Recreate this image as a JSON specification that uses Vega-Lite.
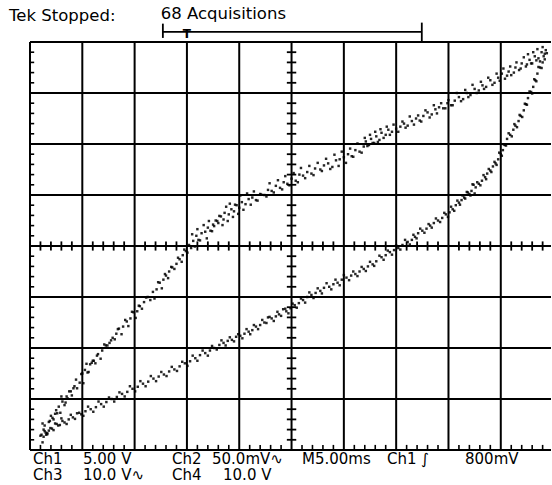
{
  "$schema": "https://vega.github.io/schema/vega-lite/v6.json",
  "width": 521,
  "height": 408,
  "autosize": {"type": "none"},
  "padding": {"left": 30, "top": 42, "right": 1, "bottom": 35},
  "background": "white",
  "config": {"view": {"stroke": null}, "axis": {"disable": true}},
  "datasets": {
    "vgrid": [{"x": 0}, {"x": 1}, {"x": 2}, {"x": 3}, {"x": 4}, {"x": 5}, {"x": 6}, {"x": 7}, {"x": 8}, {"x": 9}],
    "hgrid": [{"y": -4}, {"y": -3}, {"y": -2}, {"y": -1}, {"y": 0}, {"y": 1}, {"y": 2}, {"y": 3}, {"y": 4}],
    "xticks": [
      {"x": 0.2}, {"x": 0.4}, {"x": 0.6}, {"x": 0.8}, {"x": 1.2}, {"x": 1.4}, {"x": 1.6}, {"x": 1.8},
      {"x": 2.2}, {"x": 2.4}, {"x": 2.6}, {"x": 2.8}, {"x": 3.2}, {"x": 3.4}, {"x": 3.6}, {"x": 3.8},
      {"x": 4.2}, {"x": 4.4}, {"x": 4.6}, {"x": 4.8}, {"x": 5.2}, {"x": 5.4}, {"x": 5.6}, {"x": 5.8},
      {"x": 6.2}, {"x": 6.4}, {"x": 6.6}, {"x": 6.8}, {"x": 7.2}, {"x": 7.4}, {"x": 7.6}, {"x": 7.8},
      {"x": 8.2}, {"x": 8.4}, {"x": 8.6}, {"x": 8.8}, {"x": 9.2}, {"x": 9.4}, {"x": 9.6}, {"x": 9.8}
    ],
    "yticks": [
      {"y": -3.8}, {"y": -3.6}, {"y": -3.4}, {"y": -3.2}, {"y": -2.8}, {"y": -2.6}, {"y": -2.4}, {"y": -2.2},
      {"y": -1.8}, {"y": -1.6}, {"y": -1.4}, {"y": -1.2}, {"y": -0.8}, {"y": -0.6}, {"y": -0.4}, {"y": -0.2},
      {"y": 0.2}, {"y": 0.4}, {"y": 0.6}, {"y": 0.8}, {"y": 1.2}, {"y": 1.4}, {"y": 1.6}, {"y": 1.8},
      {"y": 2.2}, {"y": 2.4}, {"y": 2.6}, {"y": 2.8}, {"y": 3.2}, {"y": 3.4}, {"y": 3.6}, {"y": 3.8}
    ],
    "trace": [
      {"x": 0.20, "y": -3.72}, {"x": 0.26, "y": -3.60}, {"x": 0.31, "y": -3.70}, {"x": 0.28, "y": -3.52}, {"x": 0.36, "y": -3.45},
      {"x": 0.40, "y": -3.33}, {"x": 0.45, "y": -3.40}, {"x": 0.50, "y": -3.22}, {"x": 0.55, "y": -3.15}, {"x": 0.52, "y": -3.28},
      {"x": 0.62, "y": -3.05}, {"x": 0.66, "y": -3.12}, {"x": 0.70, "y": -2.95}, {"x": 0.75, "y": -2.85}, {"x": 0.80, "y": -2.93},
      {"x": 0.85, "y": -2.75}, {"x": 0.88, "y": -2.62}, {"x": 0.95, "y": -2.68}, {"x": 1.00, "y": -2.50}, {"x": 1.05, "y": -2.43},
      {"x": 1.10, "y": -2.48}, {"x": 1.15, "y": -2.32}, {"x": 1.20, "y": -2.25}, {"x": 1.25, "y": -2.30}, {"x": 1.30, "y": -2.12},
      {"x": 1.38, "y": -2.05}, {"x": 1.45, "y": -1.95}, {"x": 1.52, "y": -1.90}, {"x": 1.58, "y": -1.80}, {"x": 1.65, "y": -1.72},
      {"x": 1.70, "y": -1.62}, {"x": 1.78, "y": -1.58}, {"x": 1.85, "y": -1.48}, {"x": 1.92, "y": -1.42}, {"x": 1.98, "y": -1.30},
      {"x": 2.05, "y": -1.28}, {"x": 2.10, "y": -1.18}, {"x": 2.18, "y": -1.10}, {"x": 2.25, "y": -1.00}, {"x": 2.30, "y": -1.06},
      {"x": 2.35, "y": -0.90}, {"x": 2.42, "y": -0.85}, {"x": 2.48, "y": -0.72}, {"x": 2.55, "y": -0.66}, {"x": 2.60, "y": -0.58},
      {"x": 2.66, "y": -0.50}, {"x": 2.72, "y": -0.42}, {"x": 2.80, "y": -0.35}, {"x": 2.86, "y": -0.26}, {"x": 2.92, "y": -0.18},
      {"x": 2.98, "y": -0.10}, {"x": 3.04, "y": 0.02}, {"x": 3.08, "y": -0.04},
      {"x": 3.12, "y": 0.10}, {"x": 3.18, "y": 0.20}, {"x": 3.22, "y": 0.12}, {"x": 3.28, "y": 0.25}, {"x": 3.35, "y": 0.28},
      {"x": 3.40, "y": 0.36}, {"x": 3.45, "y": 0.30}, {"x": 3.50, "y": 0.42}, {"x": 3.55, "y": 0.50}, {"x": 3.60, "y": 0.45},
      {"x": 3.65, "y": 0.58}, {"x": 3.70, "y": 0.52}, {"x": 3.72, "y": 0.65}, {"x": 3.80, "y": 0.62}, {"x": 3.85, "y": 0.72},
      {"x": 3.90, "y": 0.68}, {"x": 3.95, "y": 0.80}, {"x": 4.00, "y": 0.75}, {"x": 4.05, "y": 0.86}, {"x": 4.12, "y": 0.82},
      {"x": 4.18, "y": 0.92},
      {"x": 4.25, "y": 0.95}, {"x": 4.32, "y": 0.90}, {"x": 4.40, "y": 1.02}, {"x": 4.48, "y": 1.00}, {"x": 4.55, "y": 1.10},
      {"x": 4.62, "y": 1.08}, {"x": 4.70, "y": 1.18}, {"x": 4.78, "y": 1.14}, {"x": 4.85, "y": 1.25}, {"x": 4.92, "y": 1.22},
      {"x": 5.00, "y": 1.32}, {"x": 5.08, "y": 1.28}, {"x": 5.15, "y": 1.40},
      {"x": 5.22, "y": 1.38}, {"x": 5.30, "y": 1.45}, {"x": 5.38, "y": 1.42}, {"x": 5.45, "y": 1.52}, {"x": 5.55, "y": 1.50},
      {"x": 5.62, "y": 1.58}, {"x": 5.70, "y": 1.62}, {"x": 5.78, "y": 1.55}, {"x": 5.85, "y": 1.68}, {"x": 5.92, "y": 1.70},
      {"x": 6.00, "y": 1.74}, {"x": 6.08, "y": 1.80}, {"x": 6.15, "y": 1.76}, {"x": 6.22, "y": 1.88}, {"x": 6.30, "y": 1.85},
      {"x": 6.38, "y": 1.95},
      {"x": 6.42, "y": 2.05}, {"x": 6.48, "y": 1.98}, {"x": 6.52, "y": 2.10}, {"x": 6.58, "y": 2.02}, {"x": 6.62, "y": 2.15},
      {"x": 6.68, "y": 2.08}, {"x": 6.72, "y": 2.22}, {"x": 6.80, "y": 2.18}, {"x": 6.85, "y": 2.28}, {"x": 6.92, "y": 2.24},
      {"x": 7.00, "y": 2.30}, {"x": 7.08, "y": 2.34}, {"x": 7.15, "y": 2.40}, {"x": 7.22, "y": 2.36}, {"x": 7.30, "y": 2.45},
      {"x": 7.38, "y": 2.50}, {"x": 7.45, "y": 2.46}, {"x": 7.52, "y": 2.55}, {"x": 7.60, "y": 2.62}, {"x": 7.68, "y": 2.58},
      {"x": 7.75, "y": 2.68}, {"x": 7.82, "y": 2.72}, {"x": 7.90, "y": 2.70}, {"x": 7.98, "y": 2.80}, {"x": 8.05, "y": 2.76},
      {"x": 8.12, "y": 2.85}, {"x": 8.20, "y": 2.92}, {"x": 8.28, "y": 2.88}, {"x": 8.35, "y": 3.00}, {"x": 8.42, "y": 2.96},
      {"x": 8.50, "y": 3.08}, {"x": 8.58, "y": 3.05}, {"x": 8.65, "y": 3.15}, {"x": 8.72, "y": 3.12}, {"x": 8.80, "y": 3.25},
      {"x": 8.88, "y": 3.20}, {"x": 8.95, "y": 3.30}, {"x": 9.02, "y": 3.38}, {"x": 9.08, "y": 3.28}, {"x": 9.15, "y": 3.42},
      {"x": 9.20, "y": 3.35}, {"x": 9.28, "y": 3.50}, {"x": 9.35, "y": 3.45}, {"x": 9.40, "y": 3.58}, {"x": 9.48, "y": 3.52},
      {"x": 9.55, "y": 3.65}, {"x": 9.60, "y": 3.58}, {"x": 9.65, "y": 3.72}, {"x": 9.72, "y": 3.68}, {"x": 9.78, "y": 3.80},
      {"x": 9.82, "y": 3.72}, {"x": 9.86, "y": 3.84},
      {"x": 0.24, "y": -3.48}, {"x": 0.33, "y": -3.69}, {"x": 0.38, "y": -3.43}, {"x": 0.43, "y": -3.37}, {"x": 0.48, "y": -3.29},
      {"x": 0.58, "y": -3.27}, {"x": 0.60, "y": -2.95}, {"x": 0.68, "y": -3.07}, {"x": 0.72, "y": -2.99}, {"x": 0.78, "y": -2.85},
      {"x": 0.83, "y": -2.79}, {"x": 0.90, "y": -2.79}, {"x": 0.98, "y": -2.51}, {"x": 1.02, "y": -2.69}, {"x": 1.08, "y": -2.31},
      {"x": 1.12, "y": -2.47}, {"x": 1.18, "y": -2.29}, {"x": 1.22, "y": -2.25}, {"x": 1.28, "y": -2.15},
      {"x": 1.35, "y": -2.21}, {"x": 1.42, "y": -1.93}, {"x": 1.48, "y": -1.95}, {"x": 1.55, "y": -1.85}, {"x": 1.62, "y": -1.83},
      {"x": 1.68, "y": -1.63}, {"x": 1.75, "y": -1.73}, {"x": 1.82, "y": -1.45}, {"x": 1.88, "y": -1.57}, {"x": 1.95, "y": -1.29},
      {"x": 2.02, "y": -1.41}, {"x": 2.08, "y": -1.17}, {"x": 2.14, "y": -1.23}, {"x": 2.22, "y": -1.01},
      {"x": 2.38, "y": -1.03}, {"x": 2.45, "y": -0.71}, {"x": 2.52, "y": -0.83}, {"x": 2.58, "y": -0.55}, {"x": 2.64, "y": -0.63},
      {"x": 2.70, "y": -0.41}, {"x": 2.76, "y": -0.45}, {"x": 2.83, "y": -0.23}, {"x": 2.90, "y": -0.31}, {"x": 2.95, "y": -0.07},
      {"x": 3.01, "y": -0.13},
      {"x": 3.10, "y": 0.23}, {"x": 3.15, "y": -0.01}, {"x": 3.20, "y": 0.33}, {"x": 3.25, "y": 0.11}, {"x": 3.32, "y": 0.41},
      {"x": 3.38, "y": 0.15}, {"x": 3.42, "y": 0.49}, {"x": 3.48, "y": 0.29}, {"x": 3.52, "y": 0.39}, {"x": 3.58, "y": 0.49},
      {"x": 3.62, "y": 0.59}, {"x": 3.68, "y": 0.41}, {"x": 3.75, "y": 0.77}, {"x": 3.78, "y": 0.49}, {"x": 3.82, "y": 0.83},
      {"x": 3.88, "y": 0.57}, {"x": 3.92, "y": 0.81}, {"x": 3.98, "y": 0.63}, {"x": 4.02, "y": 0.99}, {"x": 4.08, "y": 0.71},
      {"x": 4.15, "y": 1.03},
      {"x": 4.22, "y": 0.81}, {"x": 4.28, "y": 1.07}, {"x": 4.35, "y": 0.89}, {"x": 4.42, "y": 1.01}, {"x": 4.52, "y": 0.97},
      {"x": 4.58, "y": 1.23}, {"x": 4.66, "y": 1.05}, {"x": 4.74, "y": 1.29}, {"x": 4.82, "y": 1.11}, {"x": 4.88, "y": 1.37},
      {"x": 4.96, "y": 1.19}, {"x": 5.04, "y": 1.43}, {"x": 5.12, "y": 1.25},
      {"x": 5.18, "y": 1.53}, {"x": 5.26, "y": 1.33}, {"x": 5.34, "y": 1.57}, {"x": 5.42, "y": 1.39}, {"x": 5.50, "y": 1.63},
      {"x": 5.58, "y": 1.47}, {"x": 5.66, "y": 1.71}, {"x": 5.74, "y": 1.51}, {"x": 5.82, "y": 1.79}, {"x": 5.90, "y": 1.57},
      {"x": 5.96, "y": 1.85}, {"x": 6.04, "y": 1.63}, {"x": 6.12, "y": 1.91}, {"x": 6.18, "y": 1.75}, {"x": 6.26, "y": 2.01},
      {"x": 6.34, "y": 1.83},
      {"x": 6.40, "y": 2.12}, {"x": 6.45, "y": 1.96}, {"x": 6.50, "y": 2.18}, {"x": 6.55, "y": 2.02}, {"x": 6.60, "y": 2.24},
      {"x": 6.65, "y": 2.04}, {"x": 6.70, "y": 2.29}, {"x": 6.76, "y": 2.12}, {"x": 6.82, "y": 2.34}, {"x": 6.88, "y": 2.18},
      {"x": 6.95, "y": 2.38},
      {"x": 7.04, "y": 2.24}, {"x": 7.12, "y": 2.44}, {"x": 7.18, "y": 2.32}, {"x": 7.26, "y": 2.54}, {"x": 7.34, "y": 2.38},
      {"x": 7.42, "y": 2.56}, {"x": 7.48, "y": 2.44}, {"x": 7.56, "y": 2.66}, {"x": 7.64, "y": 2.52}, {"x": 7.72, "y": 2.76},
      {"x": 7.78, "y": 2.60}, {"x": 7.86, "y": 2.80}, {"x": 7.94, "y": 2.70}, {"x": 8.00, "y": 2.86},
      {"x": 8.08, "y": 2.76}, {"x": 8.16, "y": 3.00}, {"x": 8.24, "y": 2.84}, {"x": 8.32, "y": 3.06}, {"x": 8.38, "y": 2.92},
      {"x": 8.46, "y": 3.16}, {"x": 8.54, "y": 3.00}, {"x": 8.62, "y": 3.22}, {"x": 8.68, "y": 3.08}, {"x": 8.76, "y": 3.30},
      {"x": 8.84, "y": 3.16}, {"x": 8.92, "y": 3.38}, {"x": 8.98, "y": 3.24}, {"x": 9.05, "y": 3.48}, {"x": 9.12, "y": 3.34},
      {"x": 9.18, "y": 3.52}, {"x": 9.25, "y": 3.40}, {"x": 9.30, "y": 3.60}, {"x": 9.38, "y": 3.48}, {"x": 9.44, "y": 3.70},
      {"x": 9.50, "y": 3.56}, {"x": 9.52, "y": 3.76}, {"x": 9.58, "y": 3.58}, {"x": 9.62, "y": 3.80}, {"x": 9.68, "y": 3.64},
      {"x": 9.70, "y": 3.86}, {"x": 9.75, "y": 3.62}, {"x": 9.80, "y": 3.90}, {"x": 9.84, "y": 3.66}, {"x": 9.88, "y": 3.78},
      {"x": 9.80, "y": 3.60}, {"x": 9.75, "y": 3.50}, {"x": 9.70, "y": 3.38}, {"x": 9.66, "y": 3.25}, {"x": 9.62, "y": 3.12},
      {"x": 9.58, "y": 3.02}, {"x": 9.52, "y": 2.90}, {"x": 9.48, "y": 2.78}, {"x": 9.44, "y": 2.66}, {"x": 9.38, "y": 2.55},
      {"x": 9.34, "y": 2.45}, {"x": 9.28, "y": 2.36}, {"x": 9.24, "y": 2.28}, {"x": 9.18, "y": 2.18}, {"x": 9.12, "y": 2.10},
      {"x": 9.08, "y": 1.98}, {"x": 9.04, "y": 1.88}, {"x": 9.00, "y": 1.80}, {"x": 8.95, "y": 1.70}, {"x": 8.90, "y": 1.62},
      {"x": 8.85, "y": 1.56}, {"x": 8.80, "y": 1.48}, {"x": 8.74, "y": 1.42}, {"x": 8.70, "y": 1.35}, {"x": 8.64, "y": 1.28},
      {"x": 8.58, "y": 1.22}, {"x": 8.52, "y": 1.15}, {"x": 8.48, "y": 1.20}, {"x": 8.44, "y": 1.08}, {"x": 8.40, "y": 1.02},
      {"x": 8.35, "y": 1.06}, {"x": 8.30, "y": 0.95}, {"x": 8.25, "y": 0.90}, {"x": 8.20, "y": 0.85}, {"x": 8.14, "y": 0.80},
      {"x": 8.08, "y": 0.72}, {"x": 8.02, "y": 0.66}, {"x": 7.95, "y": 0.62},
      {"x": 7.88, "y": 0.55}, {"x": 7.80, "y": 0.50}, {"x": 7.72, "y": 0.45}, {"x": 7.65, "y": 0.40}, {"x": 7.58, "y": 0.34},
      {"x": 7.50, "y": 0.30}, {"x": 7.42, "y": 0.25}, {"x": 7.36, "y": 0.18}, {"x": 7.30, "y": 0.12}, {"x": 7.22, "y": 0.08},
      {"x": 7.12, "y": 0.02}, {"x": 7.04, "y": -0.04}, {"x": 6.96, "y": -0.08}, {"x": 6.88, "y": -0.12}, {"x": 6.80, "y": -0.18},
      {"x": 6.72, "y": -0.22}, {"x": 6.62, "y": -0.30}, {"x": 6.55, "y": -0.36}, {"x": 6.46, "y": -0.40}, {"x": 6.38, "y": -0.45},
      {"x": 6.30, "y": -0.50}, {"x": 6.22, "y": -0.55}, {"x": 6.14, "y": -0.58}, {"x": 6.05, "y": -0.62}, {"x": 5.96, "y": -0.66},
      {"x": 5.88, "y": -0.72}, {"x": 5.80, "y": -0.75}, {"x": 5.72, "y": -0.80}, {"x": 5.62, "y": -0.82}, {"x": 5.55, "y": -0.88},
      {"x": 5.46, "y": -0.92}, {"x": 5.38, "y": -0.96},
      {"x": 5.30, "y": -1.00}, {"x": 5.22, "y": -1.06}, {"x": 5.14, "y": -1.12}, {"x": 5.06, "y": -1.16}, {"x": 4.98, "y": -1.22},
      {"x": 4.90, "y": -1.28}, {"x": 4.84, "y": -1.24}, {"x": 4.76, "y": -1.34}, {"x": 4.70, "y": -1.38}, {"x": 4.62, "y": -1.42},
      {"x": 4.55, "y": -1.40}, {"x": 4.48, "y": -1.50}, {"x": 4.40, "y": -1.55}, {"x": 4.32, "y": -1.58}, {"x": 4.25, "y": -1.65},
      {"x": 4.18, "y": -1.68}, {"x": 4.10, "y": -1.72}, {"x": 4.02, "y": -1.76}, {"x": 3.94, "y": -1.78}, {"x": 3.86, "y": -1.84},
      {"x": 3.78, "y": -1.86}, {"x": 3.70, "y": -1.90}, {"x": 3.62, "y": -1.94},
      {"x": 3.52, "y": -2.00}, {"x": 3.44, "y": -2.05}, {"x": 3.35, "y": -2.10}, {"x": 3.25, "y": -2.14}, {"x": 3.16, "y": -2.20},
      {"x": 3.06, "y": -2.26}, {"x": 2.96, "y": -2.30}, {"x": 2.86, "y": -2.36}, {"x": 2.76, "y": -2.42}, {"x": 2.66, "y": -2.46},
      {"x": 2.56, "y": -2.52}, {"x": 2.46, "y": -2.56}, {"x": 2.36, "y": -2.60}, {"x": 2.26, "y": -2.66}, {"x": 2.16, "y": -2.70},
      {"x": 2.06, "y": -2.76}, {"x": 1.96, "y": -2.80}, {"x": 1.86, "y": -2.86}, {"x": 1.76, "y": -2.90},
      {"x": 1.66, "y": -2.96}, {"x": 1.56, "y": -3.00}, {"x": 1.46, "y": -3.06}, {"x": 1.36, "y": -3.10}, {"x": 1.26, "y": -3.16},
      {"x": 1.16, "y": -3.20}, {"x": 1.06, "y": -3.24}, {"x": 0.98, "y": -3.30}, {"x": 0.90, "y": -3.28}, {"x": 0.82, "y": -3.36},
      {"x": 0.74, "y": -3.40}, {"x": 0.66, "y": -3.46}, {"x": 0.60, "y": -3.38}, {"x": 0.54, "y": -3.52}, {"x": 0.48, "y": -3.48},
      {"x": 0.42, "y": -3.58}, {"x": 0.36, "y": -3.62}, {"x": 0.30, "y": -3.66}, {"x": 0.26, "y": -3.74}, {"x": 0.22, "y": -3.70},
      {"x": 9.84, "y": 3.77}, {"x": 9.78, "y": 3.49}, {"x": 9.72, "y": 3.51}, {"x": 9.68, "y": 3.23}, {"x": 9.64, "y": 3.27},
      {"x": 9.60, "y": 2.99}, {"x": 9.55, "y": 3.03}, {"x": 9.50, "y": 2.77}, {"x": 9.46, "y": 2.79}, {"x": 9.41, "y": 2.53},
      {"x": 9.36, "y": 2.57}, {"x": 9.31, "y": 2.33}, {"x": 9.26, "y": 2.39}, {"x": 9.21, "y": 2.15}, {"x": 9.15, "y": 2.21},
      {"x": 9.10, "y": 1.97}, {"x": 9.06, "y": 1.99}, {"x": 9.02, "y": 1.77}, {"x": 8.97, "y": 1.83}, {"x": 8.92, "y": 1.59},
      {"x": 8.88, "y": 1.65}, {"x": 8.82, "y": 1.45}, {"x": 8.77, "y": 1.51}, {"x": 8.72, "y": 1.31}, {"x": 8.67, "y": 1.39},
      {"x": 8.61, "y": 1.19}, {"x": 8.55, "y": 1.25}, {"x": 8.50, "y": 1.03}, {"x": 8.46, "y": 1.21}, {"x": 8.42, "y": 0.99},
      {"x": 8.37, "y": 1.05}, {"x": 8.32, "y": 0.93}, {"x": 8.27, "y": 0.99}, {"x": 8.22, "y": 0.81}, {"x": 8.17, "y": 0.89},
      {"x": 8.11, "y": 0.69}, {"x": 8.05, "y": 0.77}, {"x": 7.99, "y": 0.57},
      {"x": 7.92, "y": 0.65}, {"x": 7.84, "y": 0.47}, {"x": 7.76, "y": 0.54}, {"x": 7.68, "y": 0.36}, {"x": 7.62, "y": 0.43},
      {"x": 7.54, "y": 0.26}, {"x": 7.46, "y": 0.34}, {"x": 7.39, "y": 0.15}, {"x": 7.33, "y": 0.22}, {"x": 7.26, "y": 0.03},
      {"x": 7.17, "y": 0.12}, {"x": 7.08, "y": -0.07}, {"x": 7.00, "y": 0.01}, {"x": 6.92, "y": -0.17}, {"x": 6.84, "y": -0.09},
      {"x": 6.76, "y": -0.27}, {"x": 6.68, "y": -0.19}, {"x": 6.58, "y": -0.39}, {"x": 6.50, "y": -0.31}, {"x": 6.42, "y": -0.49},
      {"x": 6.34, "y": -0.41}, {"x": 6.26, "y": -0.59}, {"x": 6.18, "y": -0.50}, {"x": 6.10, "y": -0.67}, {"x": 6.00, "y": -0.57},
      {"x": 5.92, "y": -0.77}, {"x": 5.84, "y": -0.66}, {"x": 5.76, "y": -0.85}, {"x": 5.67, "y": -0.73}, {"x": 5.58, "y": -0.93},
      {"x": 5.50, "y": -0.83}, {"x": 5.42, "y": -1.02},
      {"x": 5.34, "y": -0.91}, {"x": 5.26, "y": -1.11}, {"x": 5.18, "y": -1.03}, {"x": 5.10, "y": -1.21}, {"x": 5.02, "y": -1.13},
      {"x": 4.94, "y": -1.32}, {"x": 4.88, "y": -1.23}, {"x": 4.80, "y": -1.37}, {"x": 4.73, "y": -1.29}, {"x": 4.66, "y": -1.47},
      {"x": 4.58, "y": -1.39}, {"x": 4.52, "y": -1.51}, {"x": 4.44, "y": -1.45}, {"x": 4.36, "y": -1.63}, {"x": 4.28, "y": -1.55},
      {"x": 4.21, "y": -1.73}, {"x": 4.14, "y": -1.63}, {"x": 4.06, "y": -1.81}, {"x": 3.98, "y": -1.73}, {"x": 3.90, "y": -1.87},
      {"x": 3.82, "y": -1.79}, {"x": 3.74, "y": -1.95}, {"x": 3.66, "y": -1.85},
      {"x": 3.57, "y": -2.03}, {"x": 3.48, "y": -1.96}, {"x": 3.40, "y": -2.15}, {"x": 3.30, "y": -2.05}, {"x": 3.20, "y": -2.25},
      {"x": 3.11, "y": -2.15}, {"x": 3.01, "y": -2.35}, {"x": 2.91, "y": -2.27}, {"x": 2.81, "y": -2.45}, {"x": 2.71, "y": -2.37},
      {"x": 2.61, "y": -2.55}, {"x": 2.51, "y": -2.47}, {"x": 2.41, "y": -2.65}, {"x": 2.31, "y": -2.55}, {"x": 2.21, "y": -2.75},
      {"x": 2.11, "y": -2.65}, {"x": 2.01, "y": -2.85}, {"x": 1.91, "y": -2.75}, {"x": 1.81, "y": -2.95},
      {"x": 1.71, "y": -2.87}, {"x": 1.61, "y": -3.05}, {"x": 1.51, "y": -2.97}, {"x": 1.41, "y": -3.15}, {"x": 1.31, "y": -3.05},
      {"x": 1.21, "y": -3.25}, {"x": 1.11, "y": -3.15}, {"x": 1.02, "y": -3.33}, {"x": 0.94, "y": -3.27}, {"x": 0.86, "y": -3.39},
      {"x": 0.78, "y": -3.31}, {"x": 0.70, "y": -3.49}, {"x": 0.62, "y": -3.43}, {"x": 0.57, "y": -3.51}, {"x": 0.51, "y": -3.49},
      {"x": 0.45, "y": -3.61}, {"x": 0.39, "y": -3.57}, {"x": 0.33, "y": -3.67}, {"x": 0.28, "y": -3.63}, {"x": 0.24, "y": -3.85}
    ]
  },
  "layer": [
    {
      "data": {"name": "vgrid"},
      "mark": {"type": "rule", "color": "black", "strokeWidth": 2},
      "encoding": {
        "x": {"field": "x", "type": "quantitative", "scale": {"domain": [0, 9.96], "nice": false, "zero": false}},
        "y": {"datum": -4, "type": "quantitative", "scale": {"domain": [-4, 4], "nice": false, "zero": false}},
        "y2": {"datum": 4}
      }
    },
    {
      "data": {"name": "hgrid"},
      "mark": {"type": "rule", "color": "black", "strokeWidth": 2},
      "encoding": {
        "y": {"field": "y", "type": "quantitative", "scale": {"domain": [-4, 4], "nice": false, "zero": false}},
        "x": {"datum": 0, "type": "quantitative", "scale": {"domain": [0, 9.96], "nice": false, "zero": false}},
        "x2": {"datum": 9.96}
      }
    },
    {
      "data": {"name": "xticks"},
      "mark": {"type": "rule", "color": "black", "strokeWidth": 1.8},
      "encoding": {
        "x": {"field": "x", "type": "quantitative", "scale": {"domain": [0, 9.96], "nice": false, "zero": false}},
        "y": {"datum": -0.09, "type": "quantitative", "scale": {"domain": [-4, 4], "nice": false, "zero": false}},
        "y2": {"datum": 0.09}
      }
    },
    {
      "data": {"name": "xticks"},
      "mark": {"type": "rule", "color": "black", "strokeWidth": 1.6},
      "encoding": {
        "x": {"field": "x", "type": "quantitative", "scale": {"domain": [0, 9.96], "nice": false, "zero": false}},
        "y": {"datum": -4, "type": "quantitative", "scale": {"domain": [-4, 4], "nice": false, "zero": false}},
        "y2": {"datum": -3.9}
      }
    },
    {
      "data": {"name": "yticks"},
      "mark": {"type": "rule", "color": "black", "strokeWidth": 1.8},
      "encoding": {
        "y": {"field": "y", "type": "quantitative", "scale": {"domain": [-4, 4], "nice": false, "zero": false}},
        "x": {"datum": 4.91, "type": "quantitative", "scale": {"domain": [0, 9.96], "nice": false, "zero": false}},
        "x2": {"datum": 5.09}
      }
    },
    {
      "data": {"name": "yticks"},
      "mark": {"type": "rule", "color": "black", "strokeWidth": 1.6},
      "encoding": {
        "y": {"field": "y", "type": "quantitative", "scale": {"domain": [-4, 4], "nice": false, "zero": false}},
        "x": {"datum": 0, "type": "quantitative", "scale": {"domain": [0, 9.96], "nice": false, "zero": false}},
        "x2": {"datum": 0.08}
      }
    },
    {
      "data": {"name": "trace"},
      "mark": {"type": "square", "color": "black", "size": 6, "opacity": 0.85},
      "encoding": {
        "x": {"field": "x", "type": "quantitative", "scale": {"domain": [0, 9.96], "nice": false, "zero": false}},
        "y": {"field": "y", "type": "quantitative", "scale": {"domain": [-4, 4], "nice": false, "zero": false}}
      }
    },
    {
      "data": {"values": [{}]},
      "mark": {"type": "rule", "color": "black", "strokeWidth": 1.8},
      "encoding": {
        "x": {"datum": 2.54, "type": "quantitative", "scale": {"domain": [0, 9.96], "nice": false, "zero": false}},
        "x2": {"datum": 7.49},
        "y": {"datum": 4.2, "type": "quantitative", "scale": {"domain": [-4, 4], "nice": false, "zero": false}}
      }
    },
    {
      "data": {"values": [{}]},
      "mark": {"type": "rule", "color": "black", "strokeWidth": 1.8},
      "encoding": {
        "x": {"datum": 2.54, "type": "quantitative", "scale": {"domain": [0, 9.96], "nice": false, "zero": false}},
        "y": {"datum": 4.08, "type": "quantitative", "scale": {"domain": [-4, 4], "nice": false, "zero": false}},
        "y2": {"datum": 4.36}
      }
    },
    {
      "data": {"values": [{}]},
      "mark": {"type": "rule", "color": "black", "strokeWidth": 1.8},
      "encoding": {
        "x": {"datum": 7.49, "type": "quantitative", "scale": {"domain": [0, 9.96], "nice": false, "zero": false}},
        "y": {"datum": 4.0, "type": "quantitative", "scale": {"domain": [-4, 4], "nice": false, "zero": false}},
        "y2": {"datum": 4.38}
      }
    },
    {
      "data": {"values": [{}]},
      "mark": {"type": "text", "align": "center", "baseline": "alphabetic", "font": "DejaVu Sans", "fontSize": 12, "fontWeight": "bold", "fill": "black"},
      "encoding": {
        "x": {"datum": 3.0, "type": "quantitative", "scale": {"domain": [0, 9.96], "nice": false, "zero": false}},
        "y": {"datum": 4.08, "type": "quantitative", "scale": {"domain": [-4, 4], "nice": false, "zero": false}},
        "text": {"value": "T"}
      }
    },
    {
      "data": {"values": [{}]},
      "mark": {"type": "text", "align": "left", "baseline": "alphabetic", "font": "DejaVu Sans", "fontSize": 16.5, "fill": "black"},
      "encoding": {
        "x": {"datum": -0.4, "type": "quantitative", "scale": {"domain": [0, 9.96], "nice": false, "zero": false}},
        "y": {"datum": 4.41, "type": "quantitative", "scale": {"domain": [-4, 4], "nice": false, "zero": false}},
        "text": {"value": "Tek Stopped:"}
      }
    },
    {
      "data": {"values": [{}]},
      "mark": {"type": "text", "align": "left", "baseline": "alphabetic", "font": "DejaVu Sans", "fontSize": 16.5, "fill": "black"},
      "encoding": {
        "x": {"datum": 2.5, "type": "quantitative", "scale": {"domain": [0, 9.96], "nice": false, "zero": false}},
        "y": {"datum": 4.45, "type": "quantitative", "scale": {"domain": [-4, 4], "nice": false, "zero": false}},
        "text": {"value": "68 Acquisitions"}
      }
    },
    {
      "data": {"values": [{}]},
      "mark": {"type": "text", "align": "left", "baseline": "alphabetic", "font": "DejaVu Sans", "fontSize": 15, "fill": "black"},
      "encoding": {
        "x": {"datum": 0.057, "type": "quantitative", "scale": {"domain": [0, 9.96], "nice": false, "zero": false}},
        "y": {"datum": -4.27, "type": "quantitative", "scale": {"domain": [-4, 4], "nice": false, "zero": false}},
        "text": {"value": "Ch1"}
      }
    },
    {
      "data": {"values": [{}]},
      "mark": {"type": "text", "align": "left", "baseline": "alphabetic", "font": "DejaVu Sans", "fontSize": 15, "fill": "black"},
      "encoding": {
        "x": {"datum": 1.013, "type": "quantitative", "scale": {"domain": [0, 9.96], "nice": false, "zero": false}},
        "y": {"datum": -4.27, "type": "quantitative", "scale": {"domain": [-4, 4], "nice": false, "zero": false}},
        "text": {"value": "5.00 V"}
      }
    },
    {
      "data": {"values": [{}]},
      "mark": {"type": "text", "align": "left", "baseline": "alphabetic", "font": "DejaVu Sans", "fontSize": 15, "fill": "black"},
      "encoding": {
        "x": {"datum": 2.715, "type": "quantitative", "scale": {"domain": [0, 9.96], "nice": false, "zero": false}},
        "y": {"datum": -4.27, "type": "quantitative", "scale": {"domain": [-4, 4], "nice": false, "zero": false}},
        "text": {"value": "Ch2"}
      }
    },
    {
      "data": {"values": [{}]},
      "mark": {"type": "text", "align": "left", "baseline": "alphabetic", "font": "DejaVu Sans", "fontSize": 15, "fill": "black"},
      "encoding": {
        "x": {"datum": 3.479, "type": "quantitative", "scale": {"domain": [0, 9.96], "nice": false, "zero": false}},
        "y": {"datum": -4.27, "type": "quantitative", "scale": {"domain": [-4, 4], "nice": false, "zero": false}},
        "text": {"value": "50.0mV∿"}
      }
    },
    {
      "data": {"values": [{}]},
      "mark": {"type": "text", "align": "left", "baseline": "alphabetic", "font": "DejaVu Sans", "fontSize": 15, "fill": "black"},
      "encoding": {
        "x": {"datum": 5.2, "type": "quantitative", "scale": {"domain": [0, 9.96], "nice": false, "zero": false}},
        "y": {"datum": -4.27, "type": "quantitative", "scale": {"domain": [-4, 4], "nice": false, "zero": false}},
        "text": {"value": "M5.00ms"}
      }
    },
    {
      "data": {"values": [{}]},
      "mark": {"type": "text", "align": "left", "baseline": "alphabetic", "font": "DejaVu Sans", "fontSize": 15, "fill": "black"},
      "encoding": {
        "x": {"datum": 6.825, "type": "quantitative", "scale": {"domain": [0, 9.96], "nice": false, "zero": false}},
        "y": {"datum": -4.27, "type": "quantitative", "scale": {"domain": [-4, 4], "nice": false, "zero": false}},
        "text": {"value": "Ch1 ∫"}
      }
    },
    {
      "data": {"values": [{}]},
      "mark": {"type": "text", "align": "left", "baseline": "alphabetic", "font": "DejaVu Sans", "fontSize": 15, "fill": "black"},
      "encoding": {
        "x": {"datum": 8.316, "type": "quantitative", "scale": {"domain": [0, 9.96], "nice": false, "zero": false}},
        "y": {"datum": -4.27, "type": "quantitative", "scale": {"domain": [-4, 4], "nice": false, "zero": false}},
        "text": {"value": "800mV"}
      }
    },
    {
      "data": {"values": [{}]},
      "mark": {"type": "text", "align": "left", "baseline": "alphabetic", "font": "DejaVu Sans", "fontSize": 15, "fill": "black"},
      "encoding": {
        "x": {"datum": 0.057, "type": "quantitative", "scale": {"domain": [0, 9.96], "nice": false, "zero": false}},
        "y": {"datum": -4.59, "type": "quantitative", "scale": {"domain": [-4, 4], "nice": false, "zero": false}},
        "text": {"value": "Ch3"}
      }
    },
    {
      "data": {"values": [{}]},
      "mark": {"type": "text", "align": "left", "baseline": "alphabetic", "font": "DejaVu Sans", "fontSize": 15, "fill": "black"},
      "encoding": {
        "x": {"datum": 1.013, "type": "quantitative", "scale": {"domain": [0, 9.96], "nice": false, "zero": false}},
        "y": {"datum": -4.59, "type": "quantitative", "scale": {"domain": [-4, 4], "nice": false, "zero": false}},
        "text": {"value": "10.0 V∿"}
      }
    },
    {
      "data": {"values": [{}]},
      "mark": {"type": "text", "align": "left", "baseline": "alphabetic", "font": "DejaVu Sans", "fontSize": 15, "fill": "black"},
      "encoding": {
        "x": {"datum": 2.715, "type": "quantitative", "scale": {"domain": [0, 9.96], "nice": false, "zero": false}},
        "y": {"datum": -4.59, "type": "quantitative", "scale": {"domain": [-4, 4], "nice": false, "zero": false}},
        "text": {"value": "Ch4"}
      }
    },
    {
      "data": {"values": [{}]},
      "mark": {"type": "text", "align": "left", "baseline": "alphabetic", "font": "DejaVu Sans", "fontSize": 15, "fill": "black"},
      "encoding": {
        "x": {"datum": 3.69, "type": "quantitative", "scale": {"domain": [0, 9.96], "nice": false, "zero": false}},
        "y": {"datum": -4.59, "type": "quantitative", "scale": {"domain": [-4, 4], "nice": false, "zero": false}},
        "text": {"value": "10.0 V"}
      }
    }
  ]
}
